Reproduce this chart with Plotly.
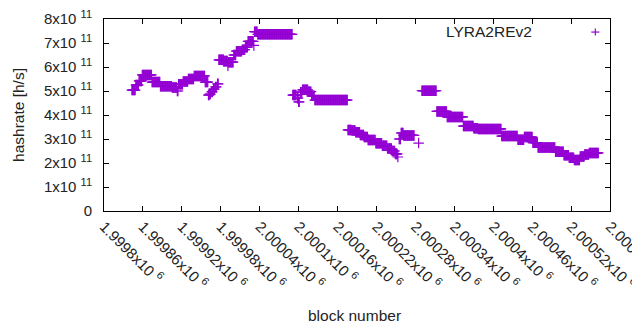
import plotly.graph_objects as go

# Runs of constant hashrate: (first block, last block, hashrate in units of 1e11 h/s)
run_start = [1999843, 1999849, 1999854, 1999859, 1999874, 1999887, 1999905, 1999913, 1999915, 1999922,
             1999930, 1999939, 1999956, 1999961, 1999963, 1999966, 1999969, 1999972, 1999975, 1999977,
             1999985, 1999991, 1999992, 2000000, 2000004, 2000013, 2000018, 2000022, 2000031, 2000032,
             2000037, 2000091, 2000098, 2000100, 2000103, 2000106, 2000115, 2000120, 2000125, 2000176,
             2000182, 2000188, 2000195, 2000201, 2000207, 2000219, 2000229, 2000237, 2000244, 2000249,
             2000253, 2000255, 2000258, 2000262, 2000285, 2000290, 2000313, 2000329, 2000354, 2000370,
             2000377, 2000413, 2000438, 2000448, 2000461, 2000469, 2000496, 2000509, 2000517, 2000525,
             2000534, 2000541, 2000548]
run_end = [1999848, 1999853, 1999858, 1999873, 1999886, 1999904, 1999912, 1999914, 1999921, 1999929,
           1999938, 1999955, 1999960, 1999962, 1999964, 1999967, 1999970, 1999973, 1999976, 1999984,
           1999990, 1999991, 1999999, 2000003, 2000012, 2000017, 2000021, 2000030, 2000031, 2000036,
           2000090, 2000096, 2000099, 2000101, 2000105, 2000114, 2000119, 2000124, 2000175, 2000181,
           2000187, 2000194, 2000200, 2000206, 2000218, 2000228, 2000236, 2000243, 2000248, 2000252,
           2000253, 2000257, 2000261, 2000278, 2000285, 2000312, 2000328, 2000353, 2000369, 2000376,
           2000412, 2000437, 2000447, 2000460, 2000468, 2000495, 2000508, 2000516, 2000524, 2000533,
           2000540, 2000547, 2000562]
run_rate = [5.04, 5.25, 5.42, 5.67, 5.37, 5.2, 5.15, 5.0, 5.28, 5.4,
            5.5, 5.63, 5.37, 4.83, 4.87, 4.96, 5.08, 5.17, 5.3, 6.3,
            6.25, 6.05, 6.2, 6.5, 6.66, 6.72, 6.82, 7.07, 6.9, 7.47,
            7.36, 4.83, 4.7, 4.55, 4.95, 5.05, 4.97, 4.8, 4.62, 3.38,
            3.35, 3.28, 3.17, 3.08, 2.96, 2.82, 2.72, 2.6, 2.5, 2.38,
            2.25, 3.0, 3.25, 3.15, 2.83, 5.01, 4.15, 3.92, 3.54, 3.45,
            3.42, 3.12, 2.97, 3.08, 2.85, 2.65, 2.47, 2.32, 2.22, 2.12,
            2.27, 2.35, 2.42]

x_tick_vals = [1999800, 1999860, 1999920, 1999980, 2000040, 2000100, 2000160,
               2000220, 2000280, 2000340, 2000400, 2000460, 2000520, 2000580]
x_tick_mant = ["1.9998", "1.99986", "1.99992", "1.99998", "2.00004", "2.0001", "2.00016",
               "2.00022", "2.00028", "2.00034", "2.0004", "2.00046", "2.00052", "2.00058"]
y_tick_vals = [0, 1e11, 2e11, 3e11, 4e11, 5e11, 6e11, 7e11, 8e11]
y_tick_mant = ["0", "1", "2", "3", "4", "5", "6", "7", "8"]

SUP = "<sup><span style='font-size:11px'>{}</span></sup>"
x_tick_text = [m + "x10 " + SUP.format(6) for m in x_tick_mant]
y_tick_text = [m if m == "0" else m + "x10 " + SUP.format(11) for m in y_tick_mant]

blocks, rates = [], []
for s, e, r in zip(run_start, run_end, run_rate):
    for b in range(s, e + 1):
        blocks.append(b)
        rates.append(r * 1e11)

color = "#9400d3"
font = "Liberation Sans, Arial, sans-serif"
txt = "#222"

fig = go.Figure()
fig.add_trace(go.Scatter(
    x=blocks, y=rates, mode="markers", name="LYRA2REv2",
    marker=dict(symbol="cross-thin", size=7.5, color=color,
                line=dict(color=color, width=1.2)),
    showlegend=False, cliponaxis=False,
))

axis_common = dict(showline=True, linecolor="black", linewidth=1, mirror="ticks",
                   ticks="inside", ticklen=5, tickcolor="black", showgrid=False,
                   zeroline=False, automargin=False, ticklabeloverflow="allow",
                   tickfont=dict(family=font, size=15, color=txt))

fig.update_xaxes(range=[1999800, 2000580], tickvals=x_tick_vals, ticktext=x_tick_text,
                 tickangle=45, **axis_common)
fig.update_yaxes(range=[0, 8e11], tickvals=y_tick_vals, ticktext=y_tick_text,
                 ticklabelstandoff=8, **axis_common)

# axis titles
fig.add_annotation(xref="paper", yref="paper", x=0.4946, y=-0.542, xanchor="center", yanchor="middle",
                   text="block number", showarrow=False, font=dict(family=font, size=15.5, color=txt))
fig.add_annotation(xref="paper", yref="paper", x=-0.170, y=0.5, xanchor="center", yanchor="middle",
                   text="hashrate [h/s]", textangle=-90, showarrow=False,
                   font=dict(family=font, size=15.5, color=txt))

# key, gnuplot style: text then sample
fig.add_annotation(xref="paper", yref="paper", x=0.8506, y=0.9375, xanchor="right", yanchor="middle",
                   text="LYRA2REv2", showarrow=False, font=dict(family=font, size=15.5, color=txt))
fig.add_shape(type="line", xref="paper", yref="paper", x0=0.963, x1=0.979, y0=0.932, y1=0.932,
              line=dict(color=color, width=1.2))
fig.add_shape(type="line", xref="paper", yref="paper", x0=0.971, x1=0.971, y0=0.914, y1=0.950,
              line=dict(color=color, width=1.2))

# page body has an 8px margin: figure is 632x322 placed at (8, 8)
fig.update_layout(width=632, height=322, margin=dict(l=96, r=30, t=11, b=119),
                  plot_bgcolor="white", paper_bgcolor="white", showlegend=False,
                  font=dict(family=font))
fig.write_html("out.html")
